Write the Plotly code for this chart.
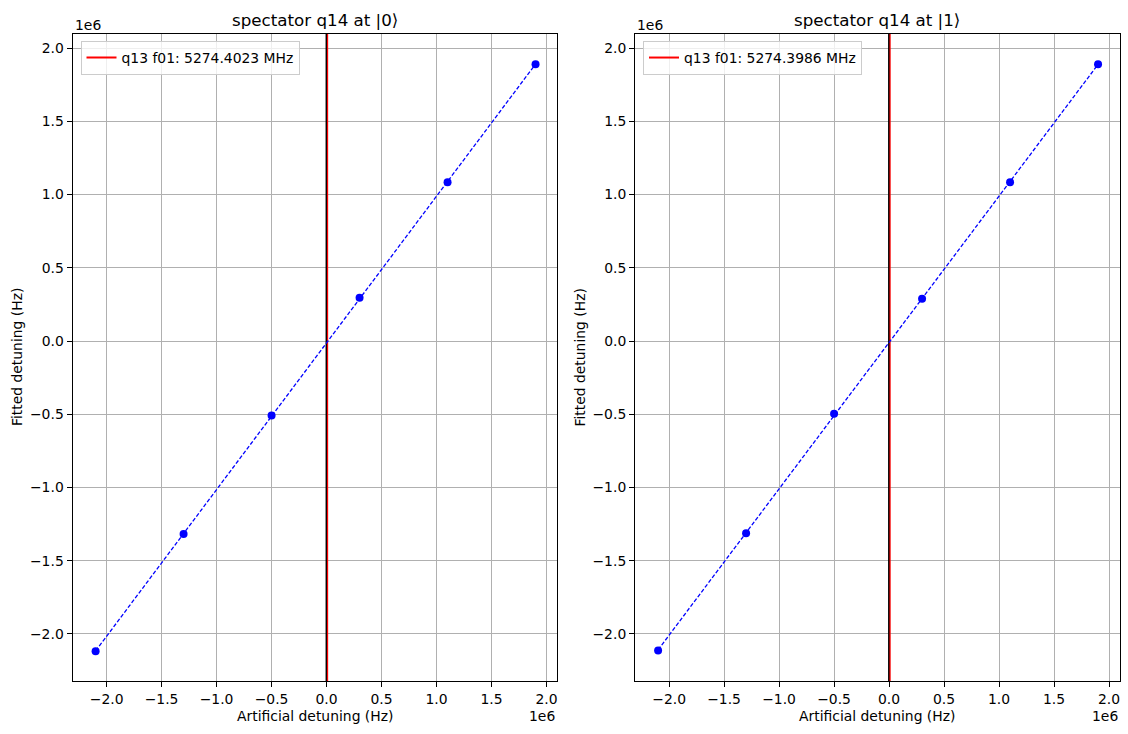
import numpy as np
import plotly.graph_objects as go

# ---------------- data ----------------
artificial_detuning = [-2.1e6, -1.3e6, -0.5e6, 0.3e6, 1.1e6, 1.9e6]
fitted_q14_0 = [-2.118e6, -1.318e6, -0.508e6, 0.295e6, 1.084e6, 1.889e6]
fitted_q14_1 = [-2.112e6, -1.312e6, -0.496e6, 0.288e6, 1.084e6, 1.889e6]
f01_labels = ["q13 f01: 5274.4023 MHz", "q13 f01: 5274.3986 MHz"]
titles = ["spectator q14 at |0⟩", "spectator q14 at |1⟩"]
red_line_x = [0.009e6, 0.009e6]
tick_vals = [-2.0e6, -1.5e6, -1.0e6, -0.5e6, 0.0, 0.5e6, 1.0e6, 1.5e6, 2.0e6]
tick_text = ["−2.0", "−1.5", "−1.0", "−0.5", "0.0", "0.5", "1.0", "1.5", "2.0"]

W, H = 1128, 734
FONT = "DejaVu Sans"

# axes pixel boxes (left, right), top/bottom
ax_px = [(72.5, 557), (635, 1119.5)]
top_px, bot_px = 34, 681

fig = go.Figure()

series = [fitted_q14_0, fitted_q14_1]
x_range = [-2.31e6, 2.095e6]
y_range = [-2.321e6, 2.096e6]

layout = dict(
    width=W, height=H,
    margin=dict(l=0, r=0, t=0, b=0),
    paper_bgcolor="white", plot_bgcolor="white",
    font=dict(family=FONT, size=13.9, color="black"),
    showlegend=True,
)
annotations = []

for i in range(2):
    xa = "x" if i == 0 else "x2"
    ya = "y" if i == 0 else "y2"
    xkey = "xaxis" if i == 0 else "xaxis2"
    ykey = "yaxis" if i == 0 else "yaxis2"
    leg = "legend" if i == 0 else "legend2"
    l, r = ax_px[i]
    xdom = [l / W, r / W]
    ydom = [1 - bot_px / H, 1 - top_px / H]

    ys = series[i]
    coef = np.polyfit(artificial_detuning, ys, 1)
    fit_x = [artificial_detuning[0], artificial_detuning[-1]]
    fit_y = [float(np.polyval(coef, v)) for v in fit_x]

    # black vertical line at 0
    fig.add_trace(go.Scatter(x=[0, 0], y=y_range, mode="lines",
                             line=dict(color="black", width=2),
                             xaxis=xa, yaxis=ya, showlegend=False, hoverinfo="skip"))
    # red vertical line
    fig.add_trace(go.Scatter(x=[red_line_x[i], red_line_x[i]], y=y_range, mode="lines",
                             line=dict(color="red", width=1.2),
                             xaxis=xa, yaxis=ya, showlegend=False))
    # legend entry for red line
    fig.add_trace(go.Scatter(x=[None], y=[None], mode="lines",
                             line=dict(color="red", width=2),
                             xaxis=xa, yaxis=ya, name=f01_labels[i], legend=leg))
    # fit dashed line
    fig.add_trace(go.Scatter(x=fit_x, y=fit_y, mode="lines",
                             line=dict(color="blue", width=1.3, dash="4px,2px"),
                             xaxis=xa, yaxis=ya, showlegend=False))
    # data points
    fig.add_trace(go.Scatter(x=artificial_detuning, y=ys, mode="markers",
                             marker=dict(color="blue", size=8, symbol="circle"),
                             xaxis=xa, yaxis=ya, showlegend=False))

    common = dict(showgrid=True, gridcolor="#b0b0b0", gridwidth=0.8,
                  showline=True, linecolor="black", linewidth=1, mirror=True,
                  ticks="outside", ticklen=5, tickcolor="black", tickwidth=1,
                  zeroline=False, tickvals=tick_vals, ticktext=tick_text,
                  tickfont=dict(family=FONT, size=13.9, color="black"))
    layout[xkey] = dict(domain=xdom, range=x_range, anchor=ya, **common)
    layout[ykey] = dict(domain=ydom, range=y_range, anchor=xa, **common)

    layout[leg] = dict(x=(l + 8) / W, y=1 - (top_px + 7) / H, xanchor="left", yanchor="top",
                       bgcolor="rgba(255,255,255,0.8)", bordercolor="#cccccc", borderwidth=1,
                       font=dict(family=FONT, size=13.9, color="black"),
                       tracegroupgap=0)

    cx = (l + r) / 2
    annotations += [
        dict(text=titles[i], x=cx / W, y=1 - 20 / H, xref="paper", yref="paper",
             showarrow=False, font=dict(family=FONT, size=16.7, color="black"),
             xanchor="center", yanchor="middle"),
        dict(text="Artificial detuning (Hz)", x=cx / W, y=1 - 716 / H, xref="paper", yref="paper",
             showarrow=False, font=dict(family=FONT, size=13.9, color="black"),
             xanchor="center", yanchor="middle"),
        dict(text="Fitted detuning (Hz)", x=(l - 56) / W, y=1 - ((top_px + bot_px) / 2) / H,
             xref="paper", yref="paper", textangle=-90,
             showarrow=False, font=dict(family=FONT, size=13.9, color="black"),
             xanchor="center", yanchor="middle"),
        dict(text="1e6", x=l / W, y=1 - 25 / H, xref="paper", yref="paper",
             showarrow=False, font=dict(family=FONT, size=13.9, color="black"),
             xanchor="left", yanchor="middle"),
        dict(text="1e6", x=r / W, y=1 - 716 / H, xref="paper", yref="paper",
             showarrow=False, font=dict(family=FONT, size=13.9, color="black"),
             xanchor="right", yanchor="middle"),
    ]

layout["annotations"] = annotations
fig.update_layout(**layout)
fig.write_html("out.html")
